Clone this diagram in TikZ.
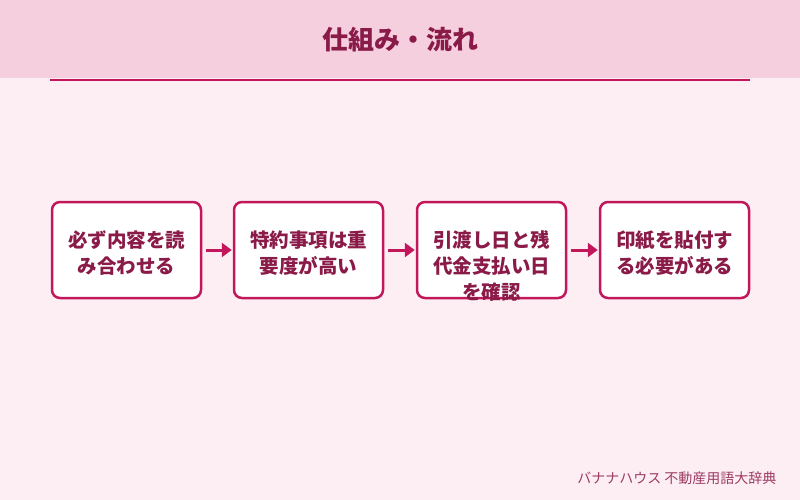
\documentclass[tikz,border=0pt]{standalone}
\usepackage{fontspec}
\newfontfamily\jpfont{Noto Sans CJK JP}
\usetikzlibrary{arrows.meta}
\definecolor{bgpink}{HTML}{FDEEF3}
\definecolor{headpink}{HTML}{F5CFDD}
\definecolor{accent}{HTML}{C2185B}
\definecolor{darktext}{HTML}{8A1A48}
\tikzset{
  stepbox/.style={draw=accent,line width=2.5pt,fill=white,rounded corners=8pt,
    minimum width=149pt,minimum height=96pt,inner sep=0pt},
  steptext/.style={anchor=north,inner sep=0pt,align=center,text=darktext,
    font=\jpfont\bfseries\fontsize{19.5pt}{26pt}\selectfont},
  flowarrow/.style={draw=accent,line width=3pt,-{Triangle[length=10pt,width=14pt]},
    shorten <=4pt,shorten >=1pt}
}
\begin{document}
\begin{tikzpicture}[x=1pt,y=-1pt]
\useasboundingbox (0,0) rectangle (800,500);
% background and header
\fill[bgpink] (0,0) rectangle (800,500);
\fill[headpink] (0,0) rectangle (800,78);
\draw[accent,line width=2pt] (50,80) -- (750,80);
\node[text=darktext,font=\jpfont\bfseries\fontsize{26pt}{30pt}\selectfont] (title) at (400,40) {仕組み・流れ};
% steps
\foreach \i/\x in {1/126.5,2/308.5,3/491.5,4/674.5}
    \node[stepbox] (box\i) at (\x,250) {};
\node[steptext] (txt1) at ([yshift=-30pt]box1.north) {必ず内容を読\\み合わせる};
\node[steptext] (txt2) at ([yshift=-30pt]box2.north) {特約事項は重\\要度が高い};
\node[steptext] (txt3) at ([yshift=-30pt]box3.north) {引渡し日と残\\代金支払い日\\を確認};
\node[steptext] (txt4) at ([yshift=-30pt]box4.north) {印紙を貼付す\\る必要がある};
\foreach \a/\b in {1/2,2/3,3/4}
    \draw[flowarrow] (box\a.east) -- (box\b.west);
% credit
\node[anchor=east,text=darktext!85,font=\jpfont\fontsize{14pt}{16pt}\selectfont] (credit) at (780,478) {バナナハウス 不動産用語大辞典};
\end{tikzpicture}
\end{document}
